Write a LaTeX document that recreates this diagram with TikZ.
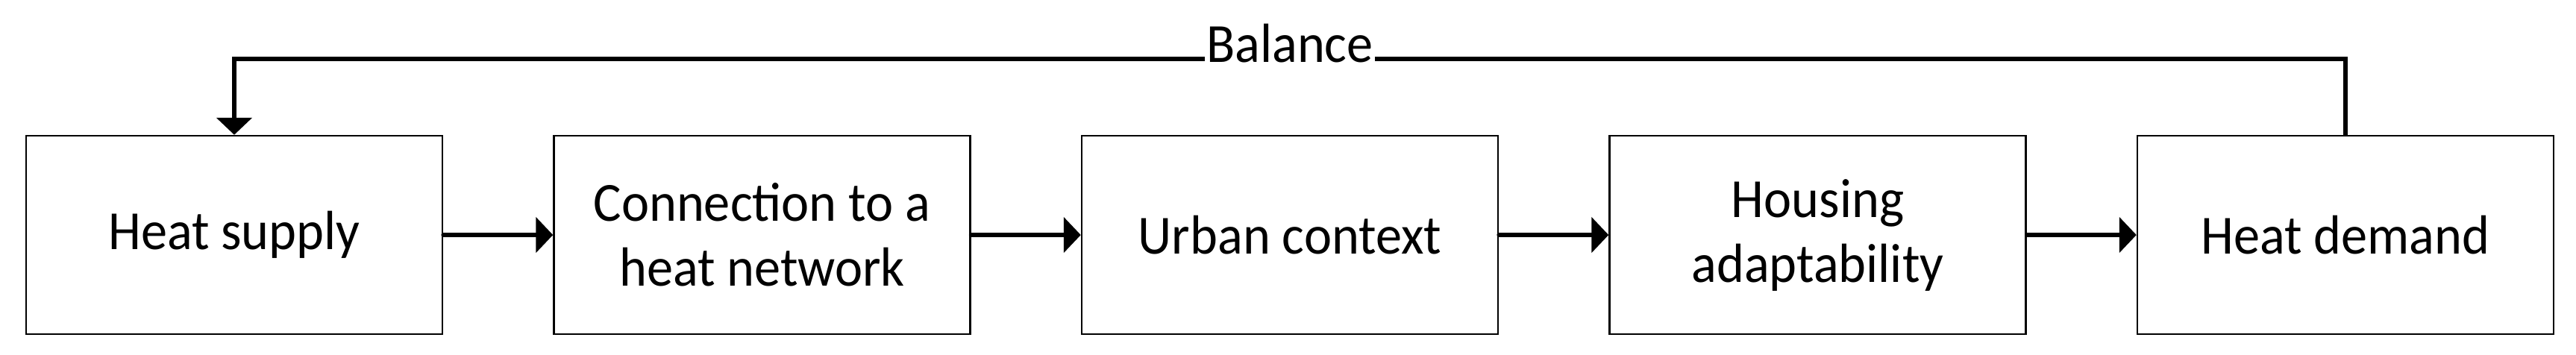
\documentclass[tikz,border=0pt]{standalone}
\usepackage{fontspec}
\setmainfont{Carlito}[FakeStretch=0.95]
\usetikzlibrary{arrows.meta}
\begin{document}
\begin{tikzpicture}[x=1pt,y=1pt,
  blockbox/.style={draw=black,line width=0.5pt,fill=white,minimum width=111.6pt,minimum height=53.2pt,inner sep=0pt,align=center,font=\fontsize{14.8}{17.4}\selectfont},
  conn/.style={line width=1.15pt,line cap=round,-{Triangle[length=4.6pt,width=9.4pt]}},
  lbl/.style={fill=white,inner xsep=0.4pt,inner ysep=1.2pt,font=\fontsize{14.8}{17.4}\selectfont}]
\useasboundingbox (0,0) rectangle (690.6,-95);
\node[blockbox] (hs) at (62.8,-63) {Heat supply};
\node[blockbox] (cn) at (204.3,-63) {Connection to a\\heat network};
\node[blockbox] (uc) at (345.8,-63) {Urban context};
\node[blockbox] (ha) at (487.3,-63) {Housing\\adaptability};
\node[blockbox] (hd) at (628.8,-63) {Heat demand};
\draw[conn] (hs) -- (cn);
\draw[conn] (cn) -- (uc);
\draw[conn] (uc) -- (ha);
\draw[conn] (ha) -- (hd);
\coordinate (topr) at (628.8,-15.8);
\coordinate (topl) at (62.8,-15.8);
\draw[conn,line cap=butt,line join=miter] (hd.north) -- (topr) -- (topl) -- (hs.north);
\node[lbl,anchor=base] (bal) at (345.8,-16.6) {Balance};
\end{tikzpicture}
\end{document}
